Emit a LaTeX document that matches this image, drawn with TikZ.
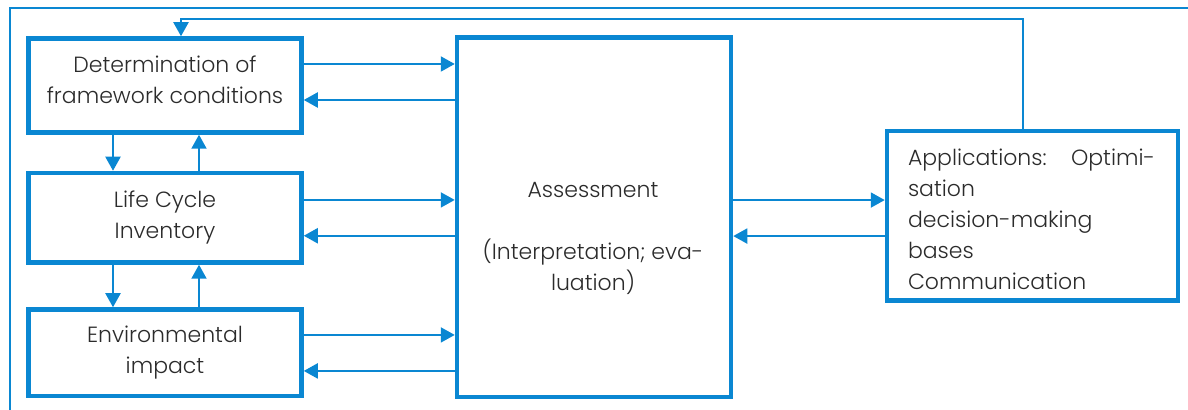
\documentclass[tikz,border=0pt]{standalone}
\usepackage{fontspec}
\setmainfont{Poppins Light}
\usetikzlibrary{arrows.meta}
\definecolor{flowblue}{HTML}{0A87D2}
\definecolor{flowtext}{HTML}{2B2B2B}
\begin{document}
\begin{tikzpicture}[x=0.5pt, y=-0.5pt,
  stage/.style={draw=flowblue, line width=2.25pt, text=flowtext, align=center,
    font=\fontsize{11pt}{15.5pt}\selectfont, inner sep=0pt},
  caption/.style={text=flowtext, font=\fontsize{11pt}{15.5pt}\selectfont, inner sep=0pt},
  link/.style={draw=flowblue, line width=1pt, -{Triangle[length=7pt, width=7.5pt]}},
  frame/.style={draw=flowblue, line width=0.8pt}]
\useasboundingbox (0,0) rectangle (1188,410);
% outer frame
\draw[frame] (10,410) -- (10,8) -- (1188,8);
% boxes on the left
\node[stage, minimum width=136.5pt, minimum height=47pt] (det) at (165,85.5) {};
\node[caption, align=center] (dettext) at (165,80) {Determination of\\framework conditions};
\node[stage, minimum width=136.5pt, minimum height=44.75pt] (lci) at (165,217.75)
  {Life Cycle\\Inventory};
\node[stage, minimum width=136.5pt, minimum height=43.25pt] (env) at (165,352.75)
  {Environmental\\impact};
% assessment and applications
\node[stage, minimum width=137pt, minimum height=179.75pt] (ass) at (594,217.25) {};
\node[caption, align=center] (asstext) at (593,238)
  {Assessment\\[15.5pt](Interpretation; eva-\\luation)};
\node[stage, minimum width=145.5pt, minimum height=84.85pt] (apps) at (1032.5,215.85) {};
\node[caption, text width=123.5pt, align=left] (appstext) at (1031.5,219)
  {Applications:\hfill Optimi-\\sation\\decision-making\\bases\\Communication};
% arrows between the left boxes
\draw[link] ([xshift=-26pt]det.south) -- ([xshift=-26pt]lci.north);
\draw[link] ([xshift=17pt]lci.north) -- ([xshift=17pt]det.south);
\draw[link] ([xshift=-26pt]lci.south) -- ([xshift=-26pt]env.north);
\draw[link] ([xshift=17pt]env.north) -- ([xshift=17pt]lci.south);
% arrows to and from the assessment
\draw[link] ([yshift=10.75pt]det.east) -- ([yshift=10.75pt]det.east -| ass.west);
\draw[link] ([yshift=-7.25pt]det.east -| ass.west) -- ([yshift=-7.25pt]det.east);
\draw[link] ([yshift=8.9pt]lci.east) -- ([yshift=8.9pt]lci.east -| ass.west);
\draw[link] ([yshift=-9pt]lci.east -| ass.west) -- ([yshift=-9pt]lci.east);
\draw[link] ([yshift=8.9pt]env.east) -- ([yshift=8.9pt]env.east -| ass.west);
\draw[link] ([yshift=-9.1pt]env.east -| ass.west) -- ([yshift=-9.1pt]env.east);
\draw[link] ([yshift=8.6pt]ass.east) -- ([yshift=8.6pt]ass.east -| apps.west);
\draw[link] ([yshift=-9.4pt]apps.west |- ass.east) -- ([yshift=-9.4pt]ass.east);
% feedback line
\coordinate (fb) at (1023,19);
\draw[link] (apps.north -| fb) -- (fb) -| ([xshift=8pt]det.north);
\end{tikzpicture}
\end{document}
